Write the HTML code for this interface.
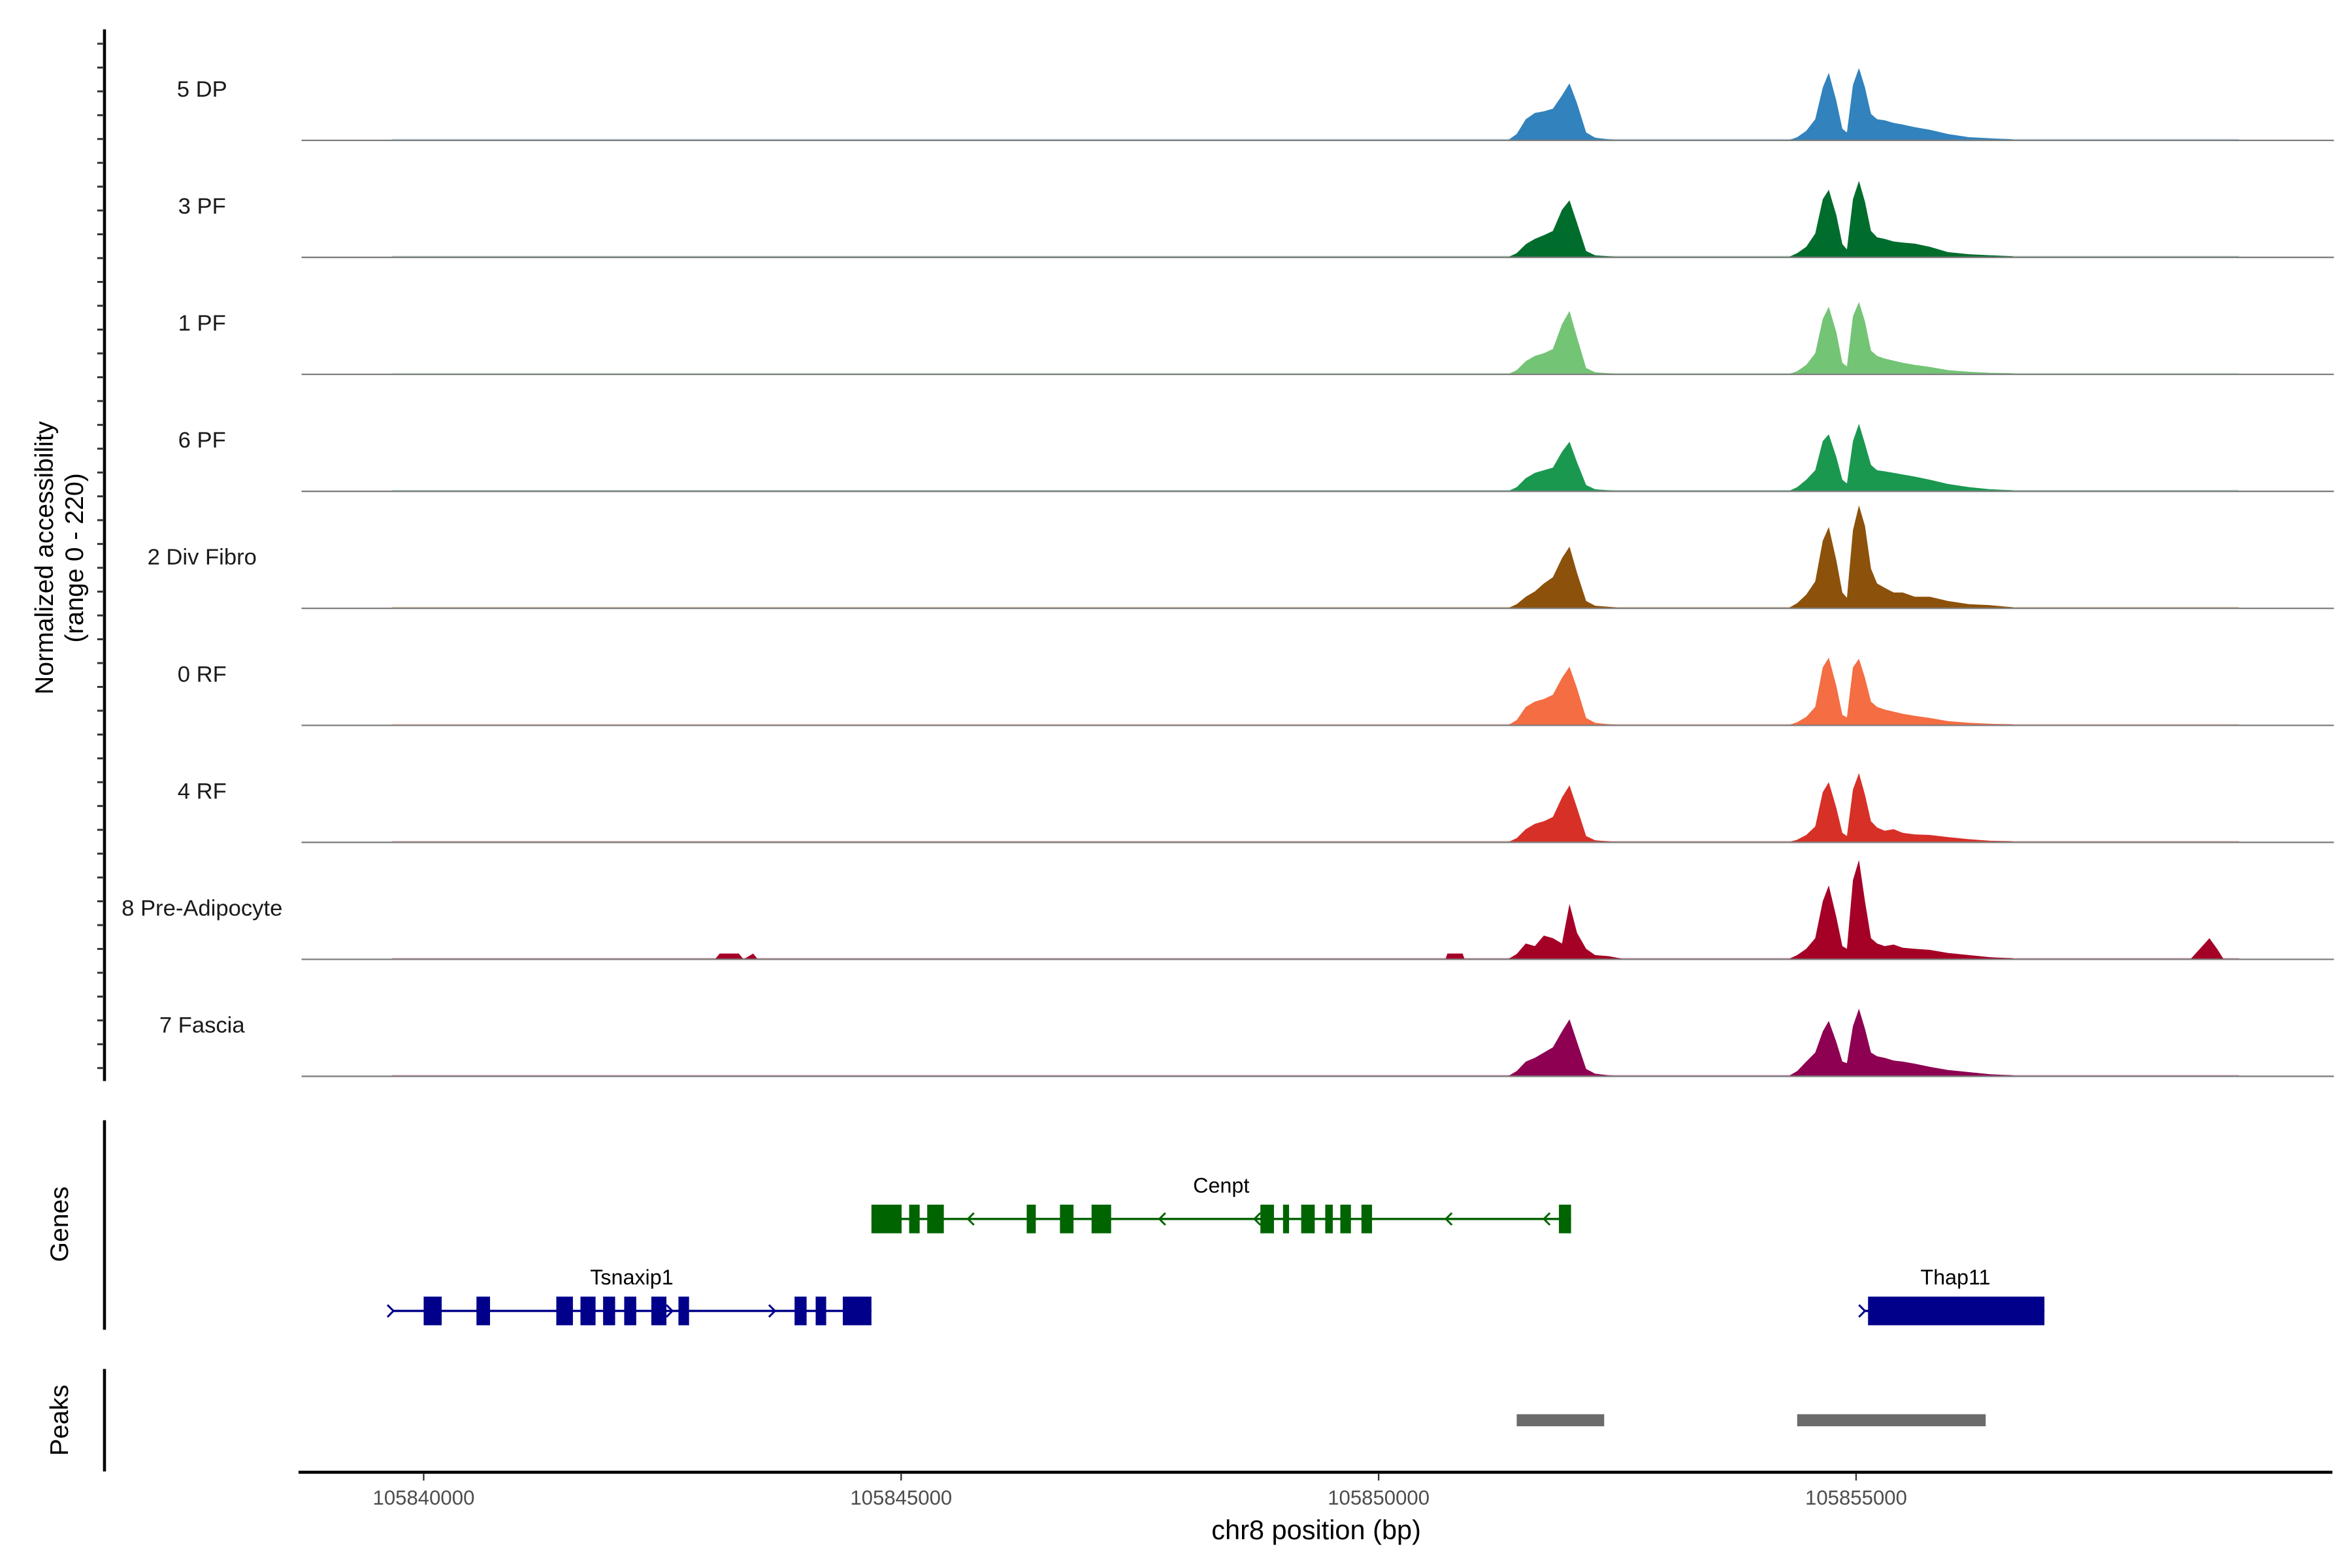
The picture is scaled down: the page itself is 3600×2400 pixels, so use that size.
<!DOCTYPE html>
<html><head><meta charset="utf-8"><style>
html,body{margin:0;padding:0;background:#fff;}
svg{display:block;font-family:"Liberation Sans",sans-serif;}
</style></head><body>
<svg id="chart" width="3600" height="2400" viewBox="0 0 1560 1040" xmlns="http://www.w3.org/2000/svg">
<rect width="1560" height="1040" fill="#fff"/>
<g id="tracks"></g>
<g id="genes"></g>
<g id="peaks"></g>
<g id="axes">
<text transform="translate(35,370) rotate(-90)" text-anchor="middle" font-size="17">Normalized accessibility</text>
<text transform="translate(55,370) rotate(-90)" text-anchor="middle" font-size="17">(range 0 - 220)</text>
<text transform="translate(45,812) rotate(-90)" text-anchor="middle" font-size="17">Genes</text>
<text transform="translate(45,942) rotate(-90)" text-anchor="middle" font-size="17">Peaks</text>
<text x="873" y="1021" text-anchor="middle" font-size="18">chr8 position (bp)</text>
</g>
</svg>
<script>
const NS="http://www.w3.org/2000/svg";
const trackNames=["5 DP","3 PF","1 PF","6 PF","2 Div Fibro","0 RF","4 RF","8 Pre-Adipocyte","7 Fascia"];
const trackColors=["#3182bd","#006d2c","#74c476","#1a9850","#8c510a","#f46d43","#d73027","#a50026","#8e0152"];
const positions=[105851352,105851446,105851541,105851636,105851730,105851825,105851920,105851999,105852078,105852173,105852267,105852409,105852583,
105854288,105854383,105854478,105854572,105854651,105854714,105854793,105854856,105854904,105854967,105855030,105855093,105855156,105855220,105855299,105855393,105855488,105855614,105855772,105855962,105856183,105856404,105856641];
const val5DP=[0,12,40,52,55,60,85,108,70,15,5,2,0, 0,6,18,40,100,128,75,22,15,105,137,100,50,40,38,33,30,25,20,12,6,4,2];
const val3PF=[0,8,25,35,42,50,90,108,65,12,4,2,0, 0,8,20,45,110,128,80,25,15,110,145,105,50,38,35,30,28,26,20,10,6,4,2];
const val1PF=[0,8,25,35,40,48,95,120,70,12,4,2,0, 0,6,18,40,105,128,80,22,15,110,137,100,45,35,30,26,22,18,14,8,5,3,2];
const val6PF=[0,8,25,35,40,45,75,94,55,12,4,2,0, 0,8,22,40,95,108,65,22,15,95,128,90,50,40,38,35,32,28,22,14,8,4,2];
const valDivFibro=[0,8,22,32,47,59,95,117,67,14,5,3,0, 0,10,26,51,128,154,91,30,20,148,195,156,75,47,39,30,30,22,22,14,8,6,2];
const val0RF=[0,10,35,45,50,58,90,111,70,14,5,2,0, 0,6,16,35,110,128,75,20,15,110,126,90,45,35,30,26,22,18,14,8,5,3,2];
const val4RF=[0,8,25,35,40,48,85,108,65,12,4,2,0, 0,5,14,30,95,114,65,18,12,100,131,90,40,28,22,25,18,15,14,10,6,3,2];
const valPreAd=[0,10,30,25,45,40,30,105,50,20,8,6,0, 0,8,20,40,110,140,80,25,20,150,188,110,40,30,25,28,22,20,18,12,8,4,2];
const valFascia=[0,10,28,35,45,55,85,108,65,14,5,2,0, 0,10,28,45,85,105,65,28,25,95,128,90,45,38,35,30,28,24,18,12,8,4,2];
const trackValues=[val5DP,val3PF,val1PF,val6PF,valDivFibro,val0RF,val4RF,valPreAd,valFascia];
const preAdExtraPos=[105843050,105843100,105843300,105843350,105843450,105843500,105850700,105850720,105850880,105850900,105858500,105858600,105858700,105858780,105858850];
const preAdExtraVal=[0,11,11,0,11,0,0,11,11,0,0,20,40,20,0];
const xTicks=[105840000,105845000,105850000,105855000];
const cenptExons=[[105844689,105845005],[105845084,105845194],[105845273,105845447],[105846315,105846410],[105846663,105846805],[105846994,105847199],[105848762,105848904],[105848999,105849062],[105849189,105849331],[105849441,105849520],[105849599,105849710],[105849820,105849931],[105851888,105852015]];
const cenptArrows=[105845715,105847720,105848715,105850720,105851746];
const tsnExons=[[105840000,105840189],[105840553,105840695],[105841389,105841563],[105841642,105841800],[105841879,105842005],[105842100,105842226],[105842384,105842542],[105842668,105842779],[105843884,105844010],[105844105,105844215],[105844389,105844689]];
const tsnArrows=[105839668,105841721,105842589,105843663];
const thapExons=[[105855125,105856972]];
const thapArrows=[105855077];
const peakRanges=[[105851446,105852362],[105854383,105856357]];

const X0=105840000, PXPERBP=1/15.788, X0PX=281;
function xs(bp){return X0PX+(bp-X0)*PXPERBP;}
const UNIT=69/197;
const TRACK_TOP=16, TRACK_H=77.6;
function ys(v,i){return baseY(i)-v*UNIT;}
function baseY(i){return TRACK_TOP+TRACK_H*(i+1)-0.5;}
function el(tag,attrs,parent){const e=document.createElementNS(NS,tag);for(const k in attrs)e.setAttribute(k,attrs[k]);parent.appendChild(e);return e;}

const tracks=document.getElementById('tracks');
for(let i=0;i<trackNames.length;i++){
  const g=el('g',{},tracks);
  
  
  const b=baseY(i);
  const lab=el('text',{x:134,y:b-29,'text-anchor':'middle','font-size':15,fill:'#1a1a1a'},g);
  lab.textContent=trackNames[i];
  
  
  const nz=el('rect',{x:260,y:b-1,width:1225,height:1,fill:trackColors[i],opacity:0.3},g);
  
  
  const vals=trackValues[i];
  let pts=[];
  pts.push(xs(positions[0])+','+b);
  for(let j=0;j<positions.length;j++){pts.push(xs(positions[j])+','+ys(vals[j],i));}
  pts.push(xs(positions[positions.length-1])+','+b);
  const p=el('polygon',{points:pts.join(' '),fill:trackColors[i]},g);
  
  
  if(trackNames[i]==="8 Pre-Adipocyte"){
    let q=[];
    for(let j=0;j<preAdExtraPos.length;j++)q.push(xs(preAdExtraPos[j])+','+ys(preAdExtraVal[j],i));
    const p2=el('polygon',{points:q.join(' '),fill:trackColors[i]},g);
    
    
  }
  const bl=el('line',{x1:200,x2:1548,y1:b,y2:b,stroke:'#7f7f7f','stroke-width':1},g);
  
  
}

const axes=document.getElementById('axes');
function vline(x,y1,y2,name){const l=el('line',{x1:x,x2:x,y1:y1,y2:y2,stroke:'#000','stroke-width':2},axes);}
vline(69.3,19.5,717,'y-axis-line');
vline(69.3,743,882,'genes-axis-line');
vline(69.3,908,976,'peaks-axis-line');
for(let y=29;y<=714;y+=15.8){
  const t=el('line',{x1:64.5,x2:69,y1:y,y2:y,stroke:'#333','stroke-width':1.3},axes);
  
  
}
const xl=el('line',{x1:198,x2:1547,y1:976.5,y2:976.5,stroke:'#000','stroke-width':2},axes);


for(const t of xTicks){
  const tk=el('line',{x1:xs(t),x2:xs(t),y1:977,y2:982,stroke:'#333','stroke-width':1},axes);
  
  
  const tl=el('text',{x:xs(t),y:998,'text-anchor':'middle','font-size':13.5,fill:'#4d4d4d'},axes);
  tl.textContent=t;
  
  
}

const genes=document.getElementById('genes');
function drawGene(name,exons,arrows,dir,y,color,labelX,labelY){
  const g=el('g',{},genes);
  
  
  let lo=Math.min(...exons.map(e=>e[0]),...arrows),hi=Math.max(...exons.map(e=>e[1]),...arrows);
  el('line',{x1:xs(lo),x2:xs(hi),y1:y,y2:y,stroke:color,'stroke-width':1.5},g);
  for(const e of exons){
    const r=el('rect',{x:xs(e[0]),y:y-9.5,width:Math.max(2,xs(e[1])-xs(e[0])),height:19,fill:color},g);
    
    
  }
  for(const a of arrows){
    const ax=xs(a);
    const d=dir>0?`M${ax-3},${y-4} L${ax+1},${y} L${ax-3},${y+4}`:`M${ax+3},${y-4} L${ax-1},${y} L${ax+3},${y+4}`;
    const pth=el('path',{d:d,fill:'none',stroke:color,'stroke-width':1.3},g);
    
    
  }
  const t=el('text',{x:labelX,y:labelY,'text-anchor':'middle','font-size':14,fill:'#000'},g);
  t.textContent=name;
  
  
}
drawGene('Cenpt',cenptExons,cenptArrows,-1,808.5,'#006400',810,791);
drawGene('Tsnaxip1',tsnExons,tsnArrows,1,869.5,'#00008b',419,852);
drawGene('Thap11',thapExons,thapArrows,1,869.5,'#00008b',1297,852);

const peaks=document.getElementById('peaks');
for(const pr of peakRanges){
  const r=el('rect',{x:xs(pr[0]),y:938,width:xs(pr[1])-xs(pr[0]),height:8,fill:'#6b6b6b'},peaks);
  
  
}
</script>
</body></html>
